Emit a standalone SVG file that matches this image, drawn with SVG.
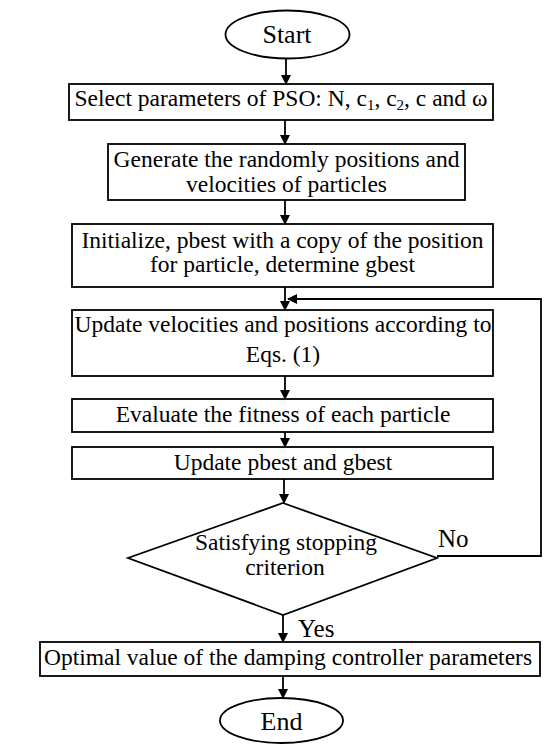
<svg xmlns="http://www.w3.org/2000/svg" width="560" height="745" viewBox="0 0 560 745">
<defs>
<marker id="ah" markerWidth="10" markerHeight="10" refX="9" refY="5" orient="auto" markerUnits="userSpaceOnUse">
<path d="M0,0 L10,5 L0,10 Z" fill="#000"/>
</marker>
<style>
.n{fill:#fff;stroke:#000;stroke-width:1.8}
.t{font-family:"Liberation Serif","Times New Roman",serif;font-size:23.5px;fill:#000;text-anchor:middle}
.c{fill:none;stroke:#000;stroke-width:1.8}
</style>
</defs>
<rect width="560" height="745" fill="#fff"/>
<g id="connectors">
<line class="c" x1="286" y1="59" x2="286" y2="84" marker-end="url(#ah)"/>
<line class="c" x1="285" y1="120" x2="285" y2="144" marker-end="url(#ah)"/>
<line class="c" x1="285" y1="200" x2="285" y2="224" marker-end="url(#ah)"/>
<line class="c" x1="285" y1="287" x2="285" y2="310" marker-end="url(#ah)"/>
<line class="c" x1="285" y1="376" x2="285" y2="399" marker-end="url(#ah)"/>
<line class="c" x1="285" y1="432" x2="285" y2="447" marker-end="url(#ah)"/>
<line class="c" x1="284" y1="479" x2="284" y2="503" marker-end="url(#ah)"/>
<line class="c" x1="283" y1="615" x2="283" y2="642" marker-end="url(#ah)"/>
<line class="c" x1="283" y1="676" x2="283" y2="698" marker-end="url(#ah)"/>
<polyline class="c" points="437,556 541,556 541,299 288,299" marker-end="url(#ah)"/>
<text class="t" style="text-anchor:start;font-size:25px" x="438" y="547">No</text>
<text class="t" style="text-anchor:start;font-size:25px" x="298" y="637">Yes</text>
</g>
<g id="start">
<ellipse class="n" cx="287.5" cy="34.5" rx="62" ry="24"/>
<text class="t" style="font-size:26px" x="287" y="43">Start</text>
</g>
<g id="select">
<rect class="n" x="69" y="84" width="424" height="36"/>
<text class="t" x="281" y="106">Select parameters of PSO: N, c<tspan font-size="15" dy="4">1</tspan><tspan dy="-4">, c</tspan><tspan font-size="15" dy="4">2</tspan><tspan dy="-4">, c and ω</tspan></text>
</g>
<g id="generate">
<rect class="n" x="108" y="144" width="357" height="56"/>
<text class="t" x="286.5" y="167">Generate the randomly positions and</text>
<text class="t" x="286.5" y="192">velocities of particles</text>
</g>
<g id="init">
<rect class="n" x="72" y="224" width="421" height="63"/>
<text class="t" x="282.5" y="248">Initialize, pbest with a copy of the position</text>
<text class="t" x="282.5" y="272">for particle, determine gbest</text>
</g>
<g id="update">
<rect class="n" x="72" y="310" width="421" height="66"/>
<text class="t" x="283" y="332">Update velocities and positions according to</text>
<text class="t" x="283" y="362">Eqs. (1)</text>
</g>
<g id="evaluate">
<rect class="n" x="72" y="399" width="421" height="33"/>
<text class="t" x="283" y="422">Evaluate the fitness of each particle</text>
</g>
<g id="updbest">
<rect class="n" x="72" y="447" width="421" height="32"/>
<text class="t" x="283" y="470">Update pbest and gbest</text>
</g>
<g id="decision">
<polygon class="n" points="283,503 437,558 283,615 128,558"/>
<text class="t" x="286" y="550">Satisfying stopping</text>
<text class="t" x="285" y="575">criterion</text>
</g>
<g id="optimal">
<rect class="n" x="40" y="642" width="500" height="34"/>
<text class="t" x="288" y="665">Optimal value of the damping controller parameters</text>
</g>
<g id="end">
<ellipse class="n" cx="281.5" cy="720.5" rx="61.5" ry="22.5"/>
<text class="t" style="font-size:26px" x="281.5" y="730">End</text>
</g>
</svg>
